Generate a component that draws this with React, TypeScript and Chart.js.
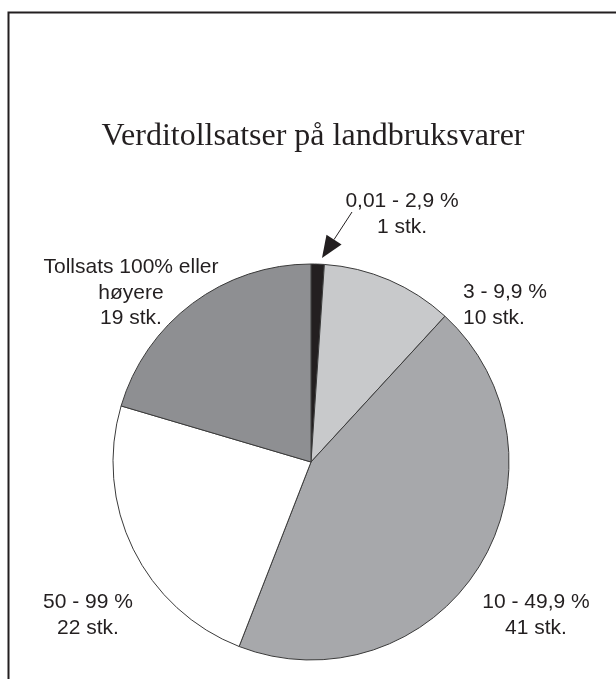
import React, { useEffect, useRef } from "react";
import { Chart, registerables } from "chart.js";

Chart.register(...registerables);

// ---- data ----
const chartTitle = "Verditollsatser på landbruksvarer";
const categories = [
  "0,01 - 2,9 %",
  "3 - 9,9 %",
  "10 - 49,9 %",
  "50 - 99 %",
  "Tollsats 100% eller høyere",
];
const counts = [1, 10, 41, 22, 19];
const unitLabel = "stk.";

// ---- styles ----
const SLICE_COLORS = ["#231f20", "#c8c9cb", "#a7a8ab", "#ffffff", "#8e8f92"];
const TEXT_COLOR = "#231f20";
const W = 616;
const H = 679;

// label layout per category (x, first baseline, alignment, how the category text wraps)
const LABEL_LAYOUT = [
  { x: 402, y: 207, align: "center", wrap: [categories[0]] },
  { x: 463, y: 298, align: "left", wrap: [categories[1]] },
  { x: 536, y: 608, align: "center", wrap: [categories[2]] },
  { x: 88, y: 608, align: "center", wrap: [categories[3]] },
  { x: 131, y: 273, align: "center", wrap: ["Tollsats 100% eller", "høyere"] },
];

const annotationPlugin = {
  id: "annotations",
  afterDraw(chart: any) {
    const ctx: CanvasRenderingContext2D = chart.ctx;
    ctx.save();

    // frame (left and top edges visible)
    ctx.strokeStyle = TEXT_COLOR;
    ctx.lineWidth = 2;
    ctx.beginPath();
    ctx.moveTo(8.5, H);
    ctx.lineTo(8.5, 12.5);
    ctx.lineTo(W, 12.5);
    ctx.stroke();

    // title
    ctx.fillStyle = TEXT_COLOR;
    ctx.textBaseline = "alphabetic";
    ctx.textAlign = "center";
    ctx.font = '32px "Liberation Serif", "Times New Roman", serif';
    ctx.fillText(chartTitle, 313, 145);

    // slice labels
    ctx.font = '21px "Liberation Sans", Arial, sans-serif';
    const lineH = 25.5;
    LABEL_LAYOUT.forEach((l, i) => {
      const lines = [...l.wrap, `${counts[i]} ${unitLabel}`];
      ctx.textAlign = l.align as CanvasTextAlign;
      lines.forEach((t, j) => ctx.fillText(t, l.x, l.y + j * lineH));
    });

    // arrow pointing at the small slice
    const sx = 352, sy = 212, tx = 322, ty = 258;
    const dx = tx - sx, dy = ty - sy;
    const len = Math.hypot(dx, dy);
    const ux = dx / len, uy = dy / len;
    const headL = 22, headW = 9;
    const bx = tx - ux * headL, by = ty - uy * headL;
    ctx.strokeStyle = TEXT_COLOR;
    ctx.lineWidth = 1;
    ctx.beginPath();
    ctx.moveTo(sx, sy);
    ctx.lineTo(bx, by);
    ctx.stroke();
    ctx.beginPath();
    ctx.moveTo(tx, ty);
    ctx.lineTo(bx - uy * headW, by + ux * headW);
    ctx.lineTo(bx + uy * headW, by - ux * headW);
    ctx.closePath();
    ctx.fill();

    ctx.restore();
  },
};

export default function App() {
  const ref = useRef<HTMLCanvasElement | null>(null);
  useEffect(() => {
    if (!ref.current) return;
    const chart = new Chart(ref.current, {
      type: "pie",
      data: {
        labels: categories,
        datasets: [
          {
            data: counts,
            backgroundColor: SLICE_COLORS,
            borderColor: "#3a3a3a",
            borderWidth: 1,
            radius: 198,
          } as any,
        ],
      },
      options: {
        responsive: false,
        animation: false,
        events: [],
        layout: { padding: { left: 6, right: 0, top: 245, bottom: 0 } },
        plugins: {
          legend: { display: false },
          tooltip: { enabled: false },
          title: { display: false },
        },
      },
      plugins: [annotationPlugin],
    });
    return () => chart.destroy();
  }, []);
  return (
    <div style={{ position: "absolute", left: 0, top: 0, width: W, height: H, background: "#fff" }}>
      <canvas ref={ref} width={W} height={H} style={{ display: "block" }} />
    </div>
  );
}
